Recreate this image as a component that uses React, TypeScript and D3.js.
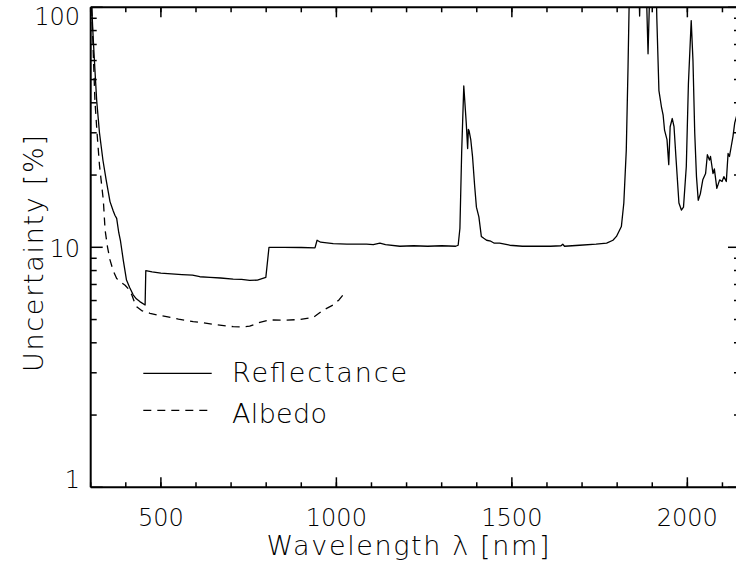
import React from "react";
import * as d3 from "d3";

const reflWl = [300,303,307,312,317,325,335,344,355,364,369,374,380,385,393,402,411,421,430,440,455,457,475,500,530,560,590,611,640,670,706,730,753,775,799,808,850,900,939,945,955,991,1030,1060,1086,1105,1124,1140,1181,1220,1260,1300,1340,1347,1352,1357,1363,1370,1374,1376,1378,1383,1388,1394,1399,1406,1413,1420,1428,1440,1450,1465,1494,1530,1570,1610,1640,1645,1650,1693,1740,1770,1788,1798,1812,1819,1826,1831,1834,1840,1858,1864,1870,1883,1888,1893,1900,1910,1913,1919,1926,1931,1935,1942,1947,1951,1957,1962,1968,1976,1983,1989,1997,2003,2011,2016,2021,2026,2031,2037,2044,2052,2057,2063,2066,2073,2077,2084,2092,2099,2104,2111,2116,2120,2125,2130,2135,2142,2150];
const reflVal = [130,100,75,55,41,30,23,19.1,15.5,14.2,13.6,13.2,11.5,10.6,8.8,7.3,6.8,6.34,6.1,5.94,5.75,8.0,7.9,7.8,7.75,7.7,7.65,7.54,7.5,7.45,7.37,7.35,7.28,7.3,7.49,10.0,10.0,9.98,9.95,10.7,10.5,10.35,10.3,10.3,10.3,10.25,10.4,10.25,10.1,10.15,10.1,10.15,10.1,10.2,12,25,47,33,25.8,31,30.6,28,23.8,18,14.7,13.4,11.1,10.9,10.7,10.6,10.4,10.4,10.2,10.1,10.1,10.1,10.15,10.3,10.1,10.2,10.3,10.4,10.7,11.1,12.2,15.3,25.4,56.6,100,200,200,92,200,120,64,120,200,150,90,45,38.6,35.5,30.8,28.1,22.1,31.8,34.4,31.8,23.1,15.3,14.3,14.7,21.7,48,88,60,30,19.7,15.7,16.7,19.1,20.3,24.3,23.1,23.9,20.3,21.2,17.6,19.1,18.8,19.7,18.8,24.6,23.9,26.3,29,33,36,40];

const albWl = [300,304,308,312,318,325,336,341,348,355,364,374,386,398,408,417,424,431,445,469,490,516,550,592,621,660,706,730,753,782,810,850,896,934,962,991,1008,1025];
const albVal = [130,90,60,41,30,22,15.7,11.8,10,8.86,8.0,7.42,7.15,6.95,6.7,6.34,5.95,5.65,5.45,5.31,5.22,5.14,5.02,4.9,4.85,4.75,4.67,4.66,4.69,4.87,4.98,4.97,5.0,5.1,5.47,5.75,6.05,6.5];

const xMajor = [500, 1000, 1500, 2000];
const xMinor = d3.range(300, 2151, 100);
const yMajor = [1, 10, 100];
const yMinor = [2,3,4,5,6,7,8,9,20,30,40,50,60,70,80,90];

const legendItems = [
  { label: "Reflectance", dash: "none" },
  { label: "Albedo", dash: "8,6" },
];

const L = 90.7, R = 740, T = 7.3, B = 487.3;
const FONT = "'DejaVu Sans', sans-serif";

export default function App() {
  const x = d3.scaleLinear().domain([300, 2150]).range([L, R]);
  const y = d3.scaleLog().domain([1, 100]).range([B, T]);
  const line = d3.line<[number, number]>().x(d => x(d[0])).y(d => y(d[1]));
  const refl = line(reflWl.map((w, i) => [w, reflVal[i]] as [number, number])) || "";
  const alb = line(albWl.map((w, i) => [w, albVal[i]] as [number, number])) || "";

  return (
    <svg width={736} height={572} style={{ position: "absolute", left: 0, top: 0, background: "#fff" }}>
      <defs>
        <clipPath id="plot">
          <rect x={L} y={T} width={R - L} height={B - T} />
        </clipPath>
      </defs>
      <rect width={736} height={572} fill="#fff" />
      <g clipPath="url(#plot)" fill="none" stroke="#000" strokeWidth={1.3} strokeLinejoin="round">
        <path d={refl} />
        <path d={alb} strokeDasharray="8,6" />
      </g>
      {/* axes frame */}
      <g stroke="#000" strokeWidth={2} fill="none">
        <line x1={L} x2={R} y1={B} y2={B} />
        <line x1={L} x2={R} y1={T} y2={T} />
        <line x1={L} x2={L} y1={T} y2={B} />
        <line x1={R} x2={R} y1={T} y2={B} />
      </g>
      <g stroke="#000" strokeWidth={1.5}>
        {xMinor.map(v => (
          <g key={"xm" + v}>
            <line x1={x(v)} x2={x(v)} y1={B} y2={B - 5} />
            <line x1={x(v)} x2={x(v)} y1={T} y2={T + 5} />
          </g>
        ))}
        {xMajor.map(v => (
          <g key={"xM" + v}>
            <line x1={x(v)} x2={x(v)} y1={B} y2={B - 10} />
            <line x1={x(v)} x2={x(v)} y1={T} y2={T + 10} />
          </g>
        ))}
        {yMinor.map(v => (
          <g key={"ym" + v}>
            <line x1={L} x2={L + 6} y1={y(v)} y2={y(v)} />
            <line x1={R} x2={R - 6} y1={y(v)} y2={y(v)} />
          </g>
        ))}
        {yMajor.map(v => (
          <g key={"yM" + v}>
            <line x1={L} x2={L + 12} y1={y(v)} y2={y(v)} />
            <line x1={R} x2={R - 12} y1={y(v)} y2={y(v)} />
          </g>
        ))}
      </g>
      <g fontFamily={FONT} fontSize={24} fontWeight={200} fill="#000">
        {xMajor.map(v => (
          <text key={"xl" + v} x={x(v)} y={526} textAnchor="middle">{v}</text>
        ))}
        {yMajor.map(v => (
          <text key={"yl" + v} x={80} y={Math.min(Math.max(y(v) + 10, T + 18), B + 1)} textAnchor="end">{v}</text>
        ))}
      </g>
      <g fontFamily={FONT} fontSize={27} fontWeight={200} fill="#000">
        <text x={408} y={555} textAnchor="middle" textLength={283} lengthAdjust="spacing">Wavelength λ [nm]</text>
        <text transform="translate(43,253.5) rotate(-90)" textAnchor="middle" textLength={237} lengthAdjust="spacing">Uncertainty [%]</text>
        {legendItems.map((it, i) => (
          <g key={it.label}>
            <line x1={143.3} x2={211.7} y1={373.3 + i * 37} y2={373.3 + i * 37} stroke="#000" strokeWidth={1.3} strokeDasharray={it.dash} />
            <text x={232} y={381.7 + i * 41.6} textLength={i === 0 ? 175 : 95} lengthAdjust="spacing">{it.label}</text>
          </g>
        ))}
      </g>
    </svg>
  );
}
